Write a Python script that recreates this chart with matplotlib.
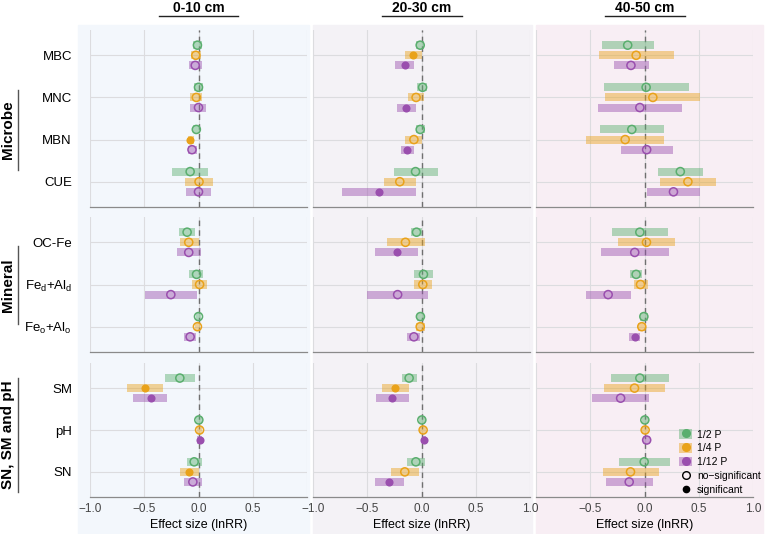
import numpy as np
import matplotlib
matplotlib.use("Agg")
import matplotlib.pyplot as plt
from matplotlib.patches import Rectangle, Patch
from matplotlib.lines import Line2D

plt.rcParams['font.family'] = ['Liberation Sans', 'DejaVu Sans']
plt.rcParams['mathtext.default'] = 'regular'

# ---- data ----
variables = ["MBC", "MNC", "MBN", "CUE",
             "OC-Fe", "Fe$_d$+Al$_d$", "Fe$_o$+Al$_o$",
             "SM", "pH", "SN"]
groups = ["Microbe", "Mineral", "SN, SM and pH"]
group_sizes = [4, 3, 3]
depths = ["0-10 cm", "20-30 cm", "40-50 cm"]
treatments = ["1/2 P", "1/4 P", "1/12 P"]
colors = ["#5aae6e", "#e9a21a", "#9a4fae"]

# rows: 1/2 P, 1/4 P, 1/12 P ; columns follow `variables`
mean_0_10 = [[-0.01, 0.0, -0.02, -0.077, -0.105, -0.018, 0.0, -0.172, 0.003, -0.04],
             [-0.025, -0.02, -0.075, 0.005, -0.09, 0.01, -0.01, -0.494, 0.01, -0.09],
             [-0.03, 0.0, -0.06, 0.0, -0.09, -0.255, -0.077, -0.442, 0.01, -0.052]]
lo_0_10 = [[-0.05, -0.04, -0.05, -0.24, -0.18, -0.085, -0.025, -0.307, -0.025, -0.11],
           [-0.07, -0.075, -0.1, -0.12, -0.17, -0.06, -0.035, -0.656, -0.015, -0.17],
           [-0.085, -0.075, -0.1, -0.115, -0.2, -0.495, -0.13, -0.6, -0.01, -0.13]]
hi_0_10 = [[0.03, 0.04, 0.01, 0.09, -0.03, 0.043, 0.025, -0.034, 0.03, 0.03],
           [0.025, 0.03, -0.045, 0.13, 0.0, 0.08, 0.015, -0.325, 0.035, 0.0],
           [0.03, 0.07, -0.015, 0.115, 0.025, -0.012, -0.02, -0.288, 0.03, 0.03]]
sig_0_10 = [[0, 0, 0, 0, 0, 0, 0, 0, 0, 0],
            [0, 0, 1, 0, 0, 0, 0, 1, 0, 1],
            [0, 0, 0, 0, 0, 0, 0, 1, 1, 0]]

mean_20_30 = [[-0.012, 0.01, -0.012, -0.055, -0.046, 0.018, -0.01, -0.114, 0.003, -0.052],
              [-0.08, -0.05, -0.07, -0.2, -0.148, 0.012, -0.012, -0.24, 0.015, -0.154],
              [-0.15, -0.14, -0.13, -0.395, -0.228, -0.22, -0.07, -0.27, 0.025, -0.296]]
lo_20_30 = [[-0.05, -0.04, -0.05, -0.255, -0.1, -0.065, -0.04, -0.18, -0.025, -0.136],
            [-0.155, -0.12, -0.15, -0.35, -0.32, -0.065, -0.05, -0.367, -0.01, -0.284],
            [-0.24, -0.23, -0.19, -0.73, -0.43, -0.5, -0.135, -0.42, 0.005, -0.432]]
hi_20_30 = [[0.02, 0.055, 0.03, 0.15, 0.006, 0.105, 0.025, -0.046, 0.03, 0.03],
            [0.0, 0.02, 0.005, -0.05, 0.028, 0.095, 0.028, -0.114, 0.04, -0.025],
            [-0.07, -0.055, -0.07, -0.05, -0.028, 0.06, -0.012, -0.117, 0.045, -0.16]]
sig_20_30 = [[0, 0, 0, 0, 0, 0, 0, 0, 0, 0],
             [1, 0, 0, 0, 0, 0, 0, 1, 0, 0],
             [1, 1, 1, 1, 1, 0, 0, 1, 1, 1]]

mean_40_50 = [[-0.155, 0.015, -0.117, 0.33, -0.043, -0.077, -0.006, -0.043, 0.003, -0.003],
              [-0.077, 0.077, -0.178, 0.4, 0.018, -0.037, -0.025, -0.092, 0.006, -0.129],
              [-0.125, -0.043, 0.02, 0.267, -0.09, -0.335, -0.092, -0.22, 0.02, -0.141]]
lo_40_50 = [[-0.39, -0.375, -0.41, 0.12, -0.3, -0.13, -0.04, -0.31, -0.025, -0.236],
            [-0.42, -0.365, -0.54, 0.14, -0.245, -0.1, -0.06, -0.374, -0.02, -0.386],
            [-0.285, -0.43, -0.22, 0.025, -0.4, -0.54, -0.14, -0.485, -0.01, -0.353]]
hi_40_50 = [[0.09, 0.41, 0.18, 0.535, 0.215, -0.02, 0.033, 0.227, 0.03, 0.233],
            [0.27, 0.515, 0.18, 0.66, 0.28, 0.03, 0.012, 0.19, 0.03, 0.132],
            [0.037, 0.35, 0.267, 0.51, 0.225, -0.125, -0.043, 0.046, 0.05, 0.077]]
sig_40_50 = [[0, 0, 0, 0, 0, 0, 0, 0, 0, 0],
             [0, 0, 0, 0, 0, 0, 0, 0, 0, 0],
             [0, 0, 0, 0, 0, 0, 1, 0, 0, 0]]

depth_data = [(mean_0_10, lo_0_10, hi_0_10, sig_0_10),
              (mean_20_30, lo_20_30, hi_20_30, sig_20_30),
              (mean_40_50, lo_40_50, hi_40_50, sig_40_50)]

# ---- layout (pixels) ----
W, H = 766, 534
fig = plt.figure(figsize=(W / 100, H / 100), dpi=100)

col_left = [90, 313, 536]
col_w = 217
row_span = [(30, 207), (217, 352), (363, 497)]
bg_spans = [(78, 309, "#f3f7fc"), (313, 532, "#f4f2f6"), (536, 763, "#f8eef4")]

for x0, x1, c in bg_spans:
    fig.add_artist(Rectangle((x0 / W, 0), (x1 - x0) / W, 1 - 25 / H,
                             transform=fig.transFigure, color=c, zorder=-5))

def px_rect(x, top, w, bottom):
    return [x / W, 1 - bottom / H, w / W, (bottom - top) / H]

offsets = [-0.24, 0.0, 0.24]
tick_text = ["\u22121.0", "\u22120.5", "0.0", "0.5", "1.0"]
# group label centre / half line length, pixels
group_centre = [130, 285, 435]
group_half = [40, 39, 57]

start = 0
for g, n in enumerate(group_sizes):
    idx = list(range(start, start + n))
    for c in range(3):
        ax = fig.add_axes(px_rect(col_left[c], row_span[g][0], col_w, row_span[g][1]))
        ax.patch.set_alpha(0)
        mean, lo, hi, sig = depth_data[c]
        pos = np.arange(n)
        for t in range(3):
            m = np.array(mean[t])[idx]
            l = np.array(lo[t])[idx]
            h = np.array(hi[t])[idx]
            s = np.array(sig[t])[idx]
            y = pos + offsets[t]
            ax.barh(y, h - l, left=l, height=0.19, color=colors[t], alpha=0.45,
                    linewidth=0, zorder=3)
            ax.scatter(m[s == 0], y[s == 0], s=34, facecolors='none',
                       edgecolors=colors[t], linewidths=1.1, zorder=4)
            ax.scatter(m[s == 1], y[s == 1], s=34, color=colors[t],
                       linewidths=0, zorder=4)
        ax.axvline(0, color="#707070", lw=1, ls=(0, (4, 3)), zorder=2)
        ax.set_xlim(-1, 1)
        ax.set_ylim(n - 0.4, -0.6)
        ax.set_xticks([-1, -0.5, 0, 0.5, 1])
        ax.set_yticks(pos)
        ax.grid(True, color="#dcdcdf", lw=0.8, zorder=0)
        ax.set_axisbelow(True)
        for sp in ["top", "right", "left"]:
            ax.spines[sp].set_visible(False)
        ax.spines["bottom"].set_color("#8a8a8a")
        ax.spines["bottom"].set_linewidth(0.9)
        ax.tick_params(length=0, labelsize=8.5, pad=4)
        if c == 0:
            ax.set_yticklabels([variables[i] for i in idx], fontsize=9.5)
            ax.tick_params(axis='y', pad=13)
        else:
            ax.set_yticklabels([])
        if g == 2:
            labels = list(tick_text)
            # neighbouring panels share the edge label
            if c == 0:
                labels[-1] = ""
            if c == 2:
                labels[0] = ""
            ax.set_xticklabels(labels, color="#444444")
            ax.set_xlabel("Effect size (lnRR)", fontsize=9, labelpad=3)
        else:
            ax.set_xticklabels([])
        if g == 2 and c == 2:
            handles = [(Patch(color=colors[k], alpha=0.45, lw=0),
                        Line2D([], [], marker='o', ls='', color=colors[k], markersize=5.5))
                       for k in range(3)]
            handles += [Line2D([], [], marker='o', ls='', markerfacecolor='none',
                               markeredgecolor='black', markersize=5.5, mew=1),
                        Line2D([], [], marker='o', ls='', color='black', markersize=4.5)]
            ax.legend(handles, treatments + ["no\u2212significant", "significant"],
                      loc='lower right', bbox_to_anchor=(1.07, -0.04), frameon=False,
                      fontsize=7.5, handlelength=1.2, handleheight=1.0,
                      handletextpad=0.5, labelspacing=0.35, borderpad=0.2)
    # group label with line
    yc = group_centre[g]
    fig.text(8 / W, 1 - yc / H, groups[g], rotation=90, ha='center', va='center',
             fontsize=11, fontweight='bold')
    half = group_half[g]
    fig.add_artist(Line2D([17.5 / W, 17.5 / W], [1 - (yc - half) / H, 1 - (yc + half) / H],
                          color="#555555", lw=1, transform=fig.transFigure))
    start += n

for c in range(3):
    xc = col_left[c] + col_w / 2
    fig.text(xc / W, 1 - 8 / H, depths[c], ha='center', va='center',
             fontsize=10, fontweight='bold')
    fig.add_artist(Line2D([(xc - 40) / W, (xc + 40) / W], [1 - 15.5 / H, 1 - 15.5 / H],
                          color="#222222", lw=1, transform=fig.transFigure))

fig.savefig("out.png", dpi=100)
